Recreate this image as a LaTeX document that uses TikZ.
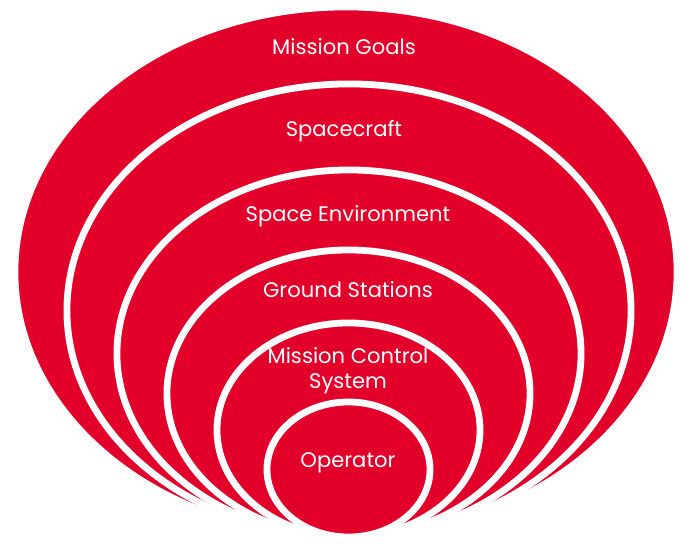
\documentclass[tikz,border=0pt]{standalone}
\usepackage{fontspec}
\setmainfont{Poppins}
\usepackage{tikz}
\usetikzlibrary{shapes.geometric, shadows, positioning}

\definecolor{ringred}{RGB}{226,0,43}

\tikzset{
    ring/.style={ellipse, fill=ringred, draw=white, line width=0.17cm, inner sep=0pt,
        drop shadow={opacity=0.2, shadow xshift=0.8pt, shadow yshift=-1.4pt}},
    lbl/.style={text=white, font=\fontsize{15}{18}\selectfont, align=center, inner sep=0pt}
}

\begin{document}
\begin{tikzpicture}[x=0.025cm, y=-0.025cm]
        \useasboundingbox (0,0) rectangle (692,544);

        \node[ring, minimum width=16.55cm, minimum height=13.25cm](goals) at (346,272){};
        \node[ring, minimum width=14.1cm, minimum height=11.325cm](craft) at (349,310.5){};
        \node[ring, minimum width=11.6cm, minimum height=9.175cm](env) at (349,353.5){};
        \node[ring, minimum width=9.075cm, minimum height=7.175cm](ground) at (348.5,393.5){};
        \node[ring, minimum width=6.575cm, minimum height=5.35cm](mcs) at (348.5,430){};
        \node[ring, minimum width=4.075cm, minimum height=3.375cm](op) at (348.5,469.5){};

        \node[lbl](goalstext) at (344,47){Mission Goals};
        \node[lbl](crafttext) at (344,131){Spacecraft};
        \node[lbl](envtext) at (348,216){Space Environment};
        \node[lbl](groundtext) at (348,290){Ground Stations};
        \node[lbl](mcstext) at (348,371){Mission Control\\System};
        \node[lbl](optext) at (348,463){Operator};
    \end{tikzpicture}
\end{document}
